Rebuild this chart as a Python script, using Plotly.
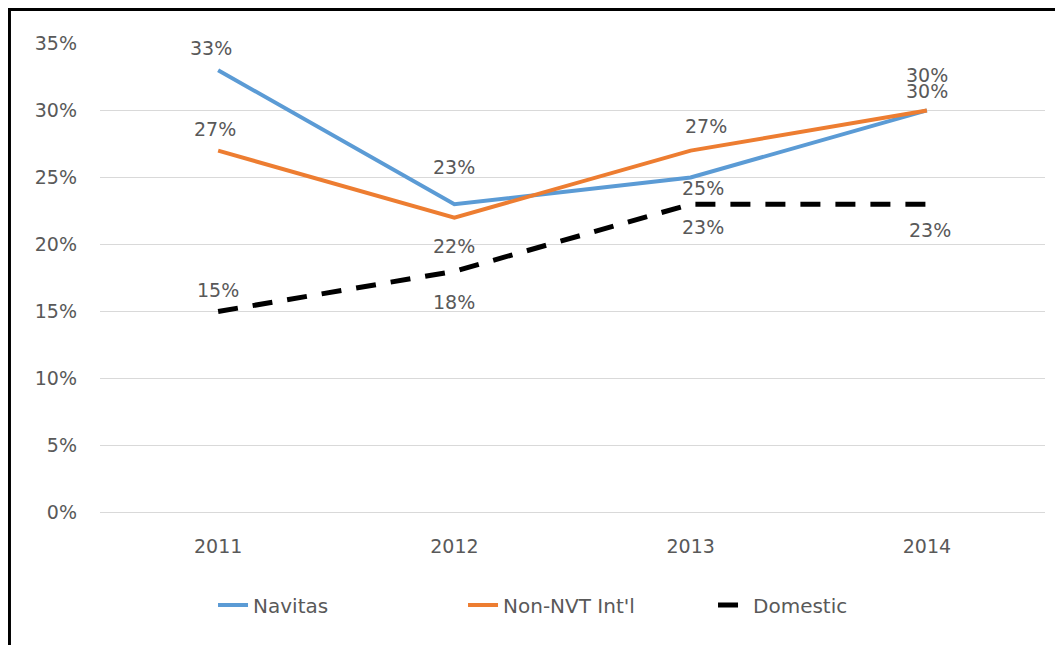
import plotly.graph_objects as go

years = ["2011", "2012", "2013", "2014"]
navitas = [0.33, 0.23, 0.25, 0.30]
non_nvt = [0.27, 0.22, 0.27, 0.30]
domestic = [0.15, 0.18, 0.23, 0.23]
y_ticks = [0, 0.05, 0.10, 0.15, 0.20, 0.25, 0.30, 0.35]

series = [
    ("Navitas", navitas, dict(color="#5B9BD5", width=4)),
    ("Non-NVT Int'l", non_nvt, dict(color="#ED7D31", width=4)),
    ("Domestic", domestic, dict(color="#000000", width=5, dash="20px,15px")),
]

# label offsets (px) per series/point: (xshift, yshift)
label_shifts = [
    [(-7, 22), (0, 37), (12, -11), (0, 35)],
    [(-3, 22), (0, -28), (15, 25), (0, 19)],
    [(0, 22), (0, -31), (12, -23), (3, -26)],
]

FONT = "DejaVu Sans"
GREY = "#595959"

fig = go.Figure()
annotations = []
for (name, vals, line), shifts in zip(series, label_shifts):
    fig.add_trace(go.Scatter(x=years, y=vals, mode="lines", name=name, line=line))
    for i, (v, (dx, dy)) in enumerate(zip(vals, shifts)):
        annotations.append(dict(
            x=i, y=v, xref="x", yref="y", text=f"{round(v*100)}%", showarrow=False,
            xshift=dx, yshift=dy, font=dict(family=FONT, size=19, color=GREY),
        ))

fig.update_layout(
    width=1055, height=637,
    margin=dict(l=92, r=18, t=35, b=132, autoexpand=False),
    paper_bgcolor="white", plot_bgcolor="white",
    font=dict(family=FONT, size=19, color=GREY),
    annotations=annotations,
    showlegend=True,
    legend=dict(orientation="h", x=0.1196, xanchor="left", y=-0.1957, yanchor="middle",
                font=dict(family=FONT, size=20, color=GREY), entrywidth=205),
    shapes=[dict(type="rect", xref="paper", yref="paper",
                 x0=-0.0958, x1=1.2, y0=-1.0, y1=1.0713,
                 line=dict(color="black", width=3), layer="above")],
)
fig.update_xaxes(type="category", range=[-0.5, 3.5], showgrid=False, showline=False,
                 ticks="", ticklabelstandoff=20, automargin=False,
                 tickfont=dict(size=19, color=GREY))
fig.update_yaxes(range=[-0.0003, 0.3503], tickvals=y_ticks, tickformat=".0%", showgrid=True,
                 gridcolor="#D9D9D9", gridwidth=1, zeroline=True, zerolinecolor="#D9D9D9",
                 zerolinewidth=1, showline=False,
                 ticks="", ticklabelstandoff=22, automargin=False,
                 tickfont=dict(size=19, color=GREY))

fig.write_html("out.html")
